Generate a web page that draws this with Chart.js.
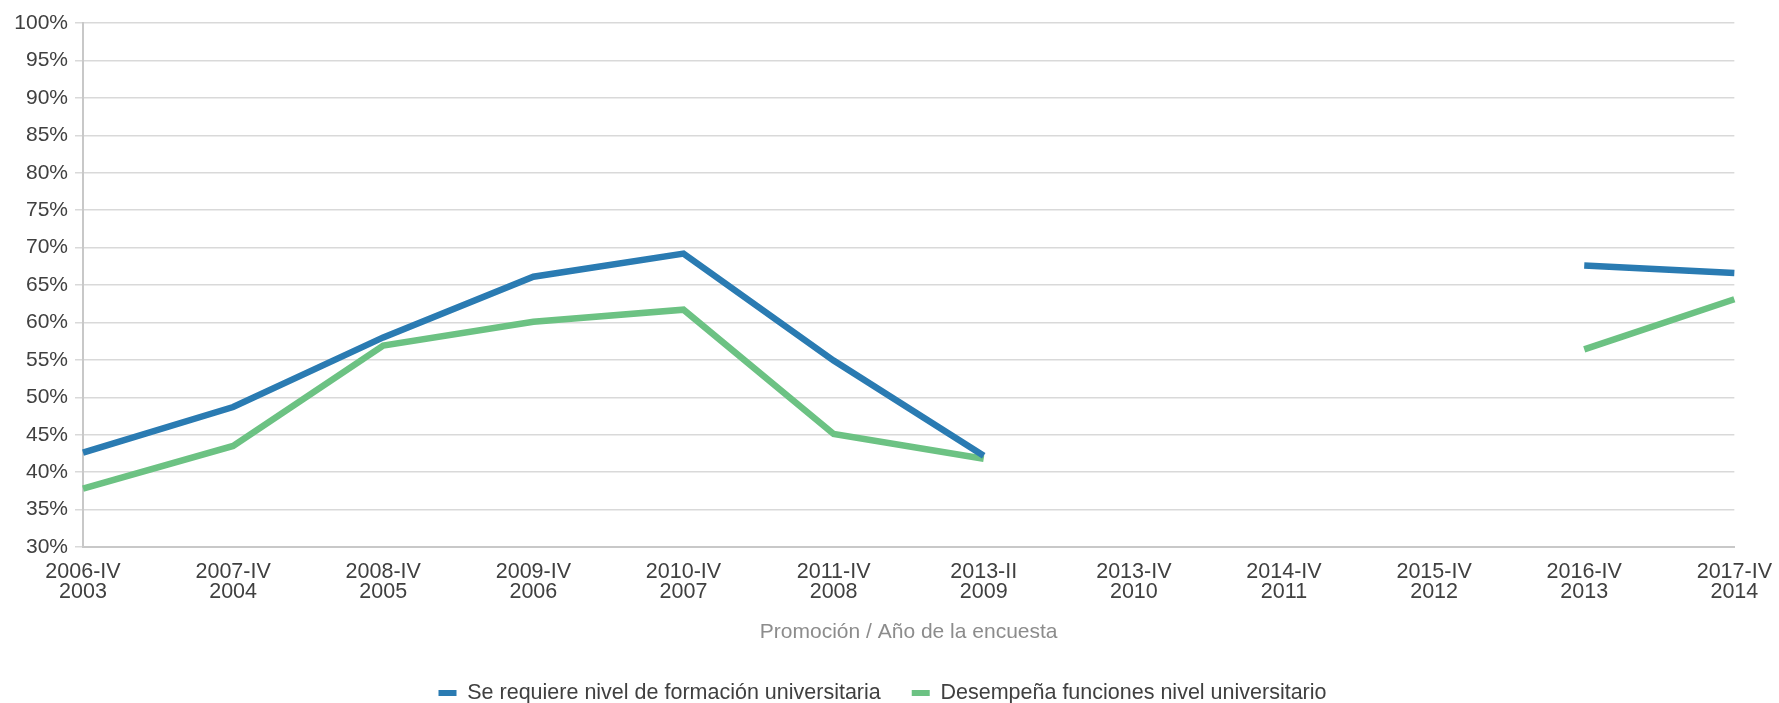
<!DOCTYPE html>
<html>
<head>
<meta charset="utf-8">
<script src="https://cdn.jsdelivr.net/npm/chart.js@4/dist/chart.umd.min.js"></script>
<style>
  html, body { margin: 0; padding: 0; background: #fff; }
  #wrap { width: 1779px; height: 703px; }
</style>
</head>
<body>
<div id="wrap"><canvas id="chart"></canvas></div>
<script>
// promoción / año de la encuesta
const categories = [
  ['2006-IV', '2003'], ['2007-IV', '2004'], ['2008-IV', '2005'], ['2009-IV', '2006'],
  ['2010-IV', '2007'], ['2011-IV', '2008'], ['2013-II', '2009'], ['2013-IV', '2010'],
  ['2014-IV', '2011'], ['2015-IV', '2012'], ['2016-IV', '2013'], ['2017-IV', '2014'],
];
const requiereNivel = [42.6, 48.7, 58.0, 66.1, 69.2, 54.9, 42.2, null, null, null, 67.6, 66.6];
const desempenaFunciones = [37.8, 43.5, 56.9, 60.1, 61.7, 45.1, 41.8, null, null, null, 56.4, 63.1];
const seriesNames = ['Se requiere nivel de formación universitaria', 'Desempeña funciones nivel universitario'];
const axisTitle = 'Promoción / Año de la encuesta';

const FONT = "'Liberation Sans', Arial, sans-serif";
const TEXT = '#404040';

// legend sits right at the bottom edge, so pin its height (and nudge it right a bit)
const legendFit = {
  id: 'legendFit',
  beforeInit(chart) {
    const fit = chart.legend.fit;
    chart.legend.fit = function () {
      fit.call(this);
      this.height = 51.75;
    };
  },
  afterLayout(chart) {
    chart.legend.left += 28;
  },
};

new Chart(document.getElementById('chart'), {
  type: 'line',
  data: {
    labels: categories,
    datasets: [
      {
        label: seriesNames[0],
        data: requiereNivel,
        borderColor: '#2a7bb2',
        backgroundColor: '#2a7bb2',
        borderWidth: 6.5,
        pointRadius: 0,
        tension: 0,
        spanGaps: false,
      },
      {
        label: seriesNames[1],
        data: desempenaFunciones,
        borderColor: '#6cc283',
        backgroundColor: '#6cc283',
        borderWidth: 6.5,
        pointRadius: 0,
        tension: 0,
        spanGaps: false,
      },
    ],
  },
  plugins: [legendFit],
  options: {
    responsive: true,
    maintainAspectRatio: false,
    animation: false,
    layout: { padding: { top: 23, right: 42, left: 0, bottom: 0 } },
    plugins: {
      tooltip: { enabled: false },
      legend: {
        position: 'bottom',
        labels: {
          font: { family: FONT, size: 21.5 },
          color: TEXT,
          boxWidth: 18,
          boxHeight: 6,
          padding: 31,
          generateLabels: (chart) =>
            Chart.defaults.plugins.legend.labels.generateLabels(chart).map(l => ({ ...l, lineWidth: 0 })),
        },
      },
    },
    scales: {
      x: {
        offset: false,
        afterFit: (scale) => { scale.height = 104.25; },
        grid: { display: false },
        border: { display: true, color: '#c8c8c8', width: 2 },
        ticks: {
          autoSkip: false,
          maxRotation: 0,
          padding: 7,
          color: TEXT,
          font: { family: FONT, size: 21.5, lineHeight: 0.93 },
        },
        title: {
          display: true,
          text: axisTitle,
          color: '#8c8c8c',
          font: { family: FONT, size: 21 },
          padding: { top: 17.4, bottom: 6.65 },
        },
      },
      y: {
        min: 30,
        max: 100,
        afterFit: (scale) => { scale.width = 83; },
        grid: { color: '#d9d9d9', lineWidth: 1.5, tickLength: 8 },
        border: { display: true, color: '#c8c8c8', width: 2 },
        ticks: {
          stepSize: 5,
          padding: 7,
          color: TEXT,
          font: { family: FONT, size: 21 },
          callback: (v) => v + '%',
        },
      },
    },
  },
});
</script>
</body>
</html>
